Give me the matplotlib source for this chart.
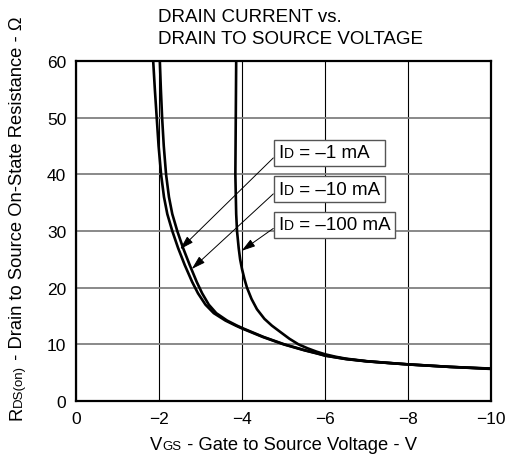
import matplotlib
matplotlib.use("Agg")
import matplotlib.pyplot as plt
from matplotlib.transforms import IdentityTransform
from matplotlib.offsetbox import TextArea, HPacker, DrawingArea, AnnotationBbox

plt.rcParams['font.family'] = ['Liberation Sans', 'DejaVu Sans']

# curve data (V_GS in volts, R_DS(on) in ohms)
v_1ma = [-1.86, -1.90, -1.945, -1.99, -2.05, -2.12, -2.20, -2.32, -2.46, -2.62,
         -2.80, -2.94, -3.12, -3.32, -3.60, -3.85, -4.00, -4.50, -5.00, -5.50,
         -5.80, -6.00, -6.50, -7.00, -7.50, -8.00, -9.00, -10.0]
r_1ma = [60, 55, 50, 45, 40, 36, 33, 30, 27, 24,
         21, 19, 17, 15.5, 14.2, 13.3, 12.8, 11.3, 10.0, 8.95,
         8.4, 8.0, 7.4, 7.0, 6.72, 6.45, 6.02, 5.7]

v_10ma = [-2.02, -2.045, -2.075, -2.115, -2.17, -2.24, -2.32, -2.44, -2.58, -2.74,
          -2.91, -3.04, -3.20, -3.38, -3.64, -3.88, -4.03, -4.52, -5.02, -5.52,
          -5.82, -6.02, -6.52, -7.02, -7.52, -8.02, -9.02, -10.0]
r_10ma = [60, 55, 50, 45, 40, 36, 33, 30, 27, 24,
          21, 19, 17, 15.5, 14.2, 13.3, 12.8, 11.3, 10.0, 8.95,
          8.4, 8.0, 7.4, 7.0, 6.72, 6.45, 6.02, 5.66]

v_100ma = [-3.86, -3.85, -3.84, -3.86, -3.88, -3.92, -3.955, -4.00, -4.06, -4.12,
           -4.23, -4.36, -4.54, -4.72, -4.92, -5.14, -5.36, -5.58, -5.80, -6.00,
           -6.25, -6.50, -7.00, -7.50, -8.00, -9.00, -10.0]
r_100ma = [60, 50, 40, 33, 30, 27, 25, 23.3, 21.5, 20,
           18, 16.2, 14.5, 13.3, 12.2, 11.0, 10.0, 9.3, 8.7, 8.25,
           7.82, 7.48, 7.03, 6.74, 6.47, 6.03, 5.72]

labels = ["\u20131 mA", "\u201310 mA", "\u2013100 mA"]
# arrow tips (on the curves) for each label
tip_v = [-2.51, -2.79, -3.99]
tip_r = [26.8, 23.3, 26.5]

xticks = [0, -2, -4, -6, -8, -10]
yticks = [0, 10, 20, 30, 40, 50, 60]

fig = plt.figure(figsize=(5.13, 4.64), dpi=100)
ax = fig.add_axes([76/513, 62/464, 415/513, 340/464])

for v, r in [(v_1ma, r_1ma), (v_10ma, r_10ma), (v_100ma, r_100ma)]:
    ax.plot(v, r, color='black', lw=1.9, zorder=3, solid_joinstyle='round')

ax.set_xlim(0, -10)
ax.set_ylim(0, 60)
ax.set_xticks(xticks)
ax.set_yticks(yticks)
ax.tick_params(length=0, labelsize=12.5, pad=7)
ax.xaxis.grid(True, color='black', lw=0.8)
ax.yaxis.grid(True, color='#808080', lw=1.3)
ax.set_axisbelow(True)
for sp in ax.spines.values():
    sp.set_linewidth(1.6)

# label boxes with arrows
box_y = [43.8, 37.4, 31.1]
for i, lab in enumerate(labels):
    parts = [TextArea("I", textprops=dict(size=13.5)),
             TextArea("D", textprops=dict(size=10)),
             TextArea(" = " + lab, textprops=dict(size=13.5))]
    if i == 0:
        parts.append(DrawingArea(8, 1))
    pack = HPacker(children=parts, align="baseline", pad=0, sep=0)
    ab = AnnotationBbox(pack, (tip_v[i], tip_r[i]), xybox=(-4.88, box_y[i]),
                        box_alignment=(0, 0.5), pad=0.34,
                        bboxprops=dict(edgecolor='#555555', lw=1.0, facecolor='white'),
                        arrowprops=dict(arrowstyle='-|>,head_length=0.5,head_width=0.15',
                                        color='black', lw=0.7, relpos=(0, 0.5),
                                        shrinkA=0, shrinkB=0, mutation_scale=12))
    ab.set_zorder(5)
    ax.add_artist(ab)

# title
fig.text(158/513, 1 - 22/464, "DRAIN CURRENT vs.", fontsize=13.5, va='baseline')
fig.text(158/513, 1 - 44/464, "DRAIN TO SOURCE VOLTAGE", fontsize=13.5, va='baseline')


def rich_text(x0, y0, parts, rotation=0):
    # text made of pieces with different sizes, all on one baseline
    rend = fig.canvas.get_renderer()
    texts = []
    for s, size in parts:
        t = fig.text(0, 0, s, fontsize=size, rotation=rotation, rotation_mode='anchor',
                     ha='left', va='baseline', transform=IdentityTransform())
        texts.append(t)
    lens = []
    for t in texts:
        bb = t.get_window_extent(renderer=rend)
        lens.append(bb.height if rotation == 90 else bb.width)
    pos = -sum(lens) / 2
    for t, L in zip(texts, lens):
        if rotation == 90:
            t.set_position((x0, y0 + pos))
        else:
            t.set_position((x0 + pos, y0))
        pos += L


rich_text(283.5, 464 - 450, [("V", 13.2), ("GS", 9.5), (" - Gate to Source Voltage - V", 13.2)])
rich_text(21.5, 464 - 218, [("R", 13.2), ("DS(on)", 9.5),
                            (" - Drain to Source On-State Resistance - \u03a9", 13.2)], rotation=90)

fig.savefig("out.png", dpi=100)
